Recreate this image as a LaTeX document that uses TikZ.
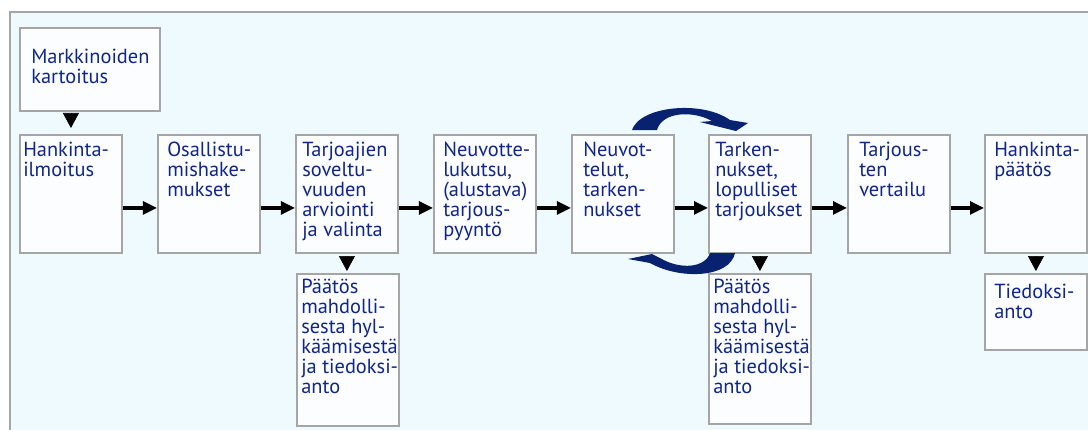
\documentclass[tikz,border=0pt]{standalone}
\usepackage{fontspec}
\setmainfont{PT Sans}
\usetikzlibrary{arrows.meta}
\definecolor{navy}{RGB}{16,38,135}
\definecolor{loopblue}{RGB}{8,34,112}
\definecolor{panel}{RGB}{239,250,254}
\definecolor{boxfill}{RGB}{251,253,254}
\definecolor{edge}{RGB}{165,165,165}

\begin{document}
\begin{tikzpicture}[x=0.025cm, y=-0.025cm,
    box/.style={draw=edge, line width=1.3pt, fill=boxfill, anchor=north west,
        minimum width=2.55cm, minimum height=2.95cm, inner sep=0pt},
    txt/.style={anchor=north west, inner sep=0pt, align=left, text=navy,
        font=\fontsize{14.5}{14.2}\selectfont},
    flow/.style={line width=2.4pt, -{Triangle[length=0.35cm, width=0.32cm]}},
    drop/.style={line width=0.4pt, -{Triangle[length=0.375cm, width=0.4cm]}}]
    \useasboundingbox (0,0) rectangle (1088,429);
    \draw[edge, fill=panel, line width=1.3pt] (10,12) rectangle (1110,445);

    % top row
    \node[box, minimum width=3.5cm, minimum height=2.075cm] (mark) at (19,27) {};
    \node[box] (hank) at (19,134) {};
    \node[box] (osal) at (157,134) {};
    \node[box] (tarj) at (295,134) {};
    \node[box] (kuts) at (433,134) {};
    \node[box] (neuv) at (571,134) {};
    \node[box] (tark) at (708,134) {};
    \node[box] (vert) at (847,134) {};
    \node[box] (paat) at (984,134) {};
    % bottom row
    \node[box, minimum height=3.8cm] (hyl1) at (296,273) {};
    \node[box, minimum height=3.75cm] (hyl2) at (708,273) {};
    \node[box, minimum height=1.9cm] (tied) at (984,273) {};

    \node[txt] (mark-t) at (31,49) {Markkinoiden\\kartoitus};
    \node[txt] (hank-t) at (23,142) {Hankinta-\\ilmoitus};
    \node[txt] (osal-t) at (167,142) {Osallistu-\\mishake-\\mukset};
    \node[txt] (tarj-t) at (302,142) {Tarjoajien\\soveltu-\\vuuden\\arviointi\\ja valinta};
    \node[txt] (kuts-t) at (443,142) {Neuvotte-\\lukutsu,\\(alustava)\\tarjous-\\pyyntö};
    \node[txt] (neuv-t) at (583,142) {Neuvot-\\telut,\\tarken-\\nukset};
    \node[txt] (tark-t) at (715,142) {Tarken-\\nukset,\\lopulliset\\tarjoukset};
    \node[txt] (vert-t) at (859,142) {Tarjous-\\ten\\vertailu};
    \node[txt] (paat-t) at (994,142) {Hankinta-\\päätös};
    \node[txt] (hyl1-t) at (301,279) {Päätös\\mahdolli-\\sesta hyl-\\käämisestä\\ja tiedoksi-\\anto};
    \node[txt] (hyl2-t) at (713,279) {Päätös\\mahdolli-\\sesta hyl-\\käämisestä\\ja tiedoksi-\\anto};
    \node[txt] (tied-t) at (994,284) {Tiedoksi-\\anto};

    \foreach \a/\b in {hank/osal, osal/tarj, tarj/kuts, kuts/neuv, neuv/tark, tark/vert, vert/paat}
        \draw[flow] ([yshift=-0.35cm]\a.east) -- ([yshift=-0.35cm]\b.west);

    \draw[drop, shorten <=0.075cm, shorten >=0.15cm] (hank.north |- mark.south) -- (hank.north);
    \draw[drop, shorten <=0.1cm, shorten >=0.05cm] (tarj.south) -- (hyl1.north -| tarj.south);
    \draw[drop, shorten <=0.1cm, shorten >=0.05cm] (tark.south) -- (hyl2.north -| tark.south);
    \draw[drop, shorten <=0.1cm, shorten >=0.05cm] (paat.south) -- (tied.north);

    % loop between neuvottelut and tarkennukset
    \fill[loopblue] (632,130) .. controls (640,106) and (702,100) .. (730,120) -- (748,123) -- (736,131)
        -- (700,122) -- (712,121) .. controls (692,110) and (662,112) .. (657,130) -- cycle;
    \fill[loopblue] (735,253) .. controls (730,278) and (680,280) .. (650,263) -- (628,259) -- (652,254)
        -- (660,258) .. controls (680,270) and (705,268) .. (710,253) -- cycle;
\end{tikzpicture}
\end{document}
